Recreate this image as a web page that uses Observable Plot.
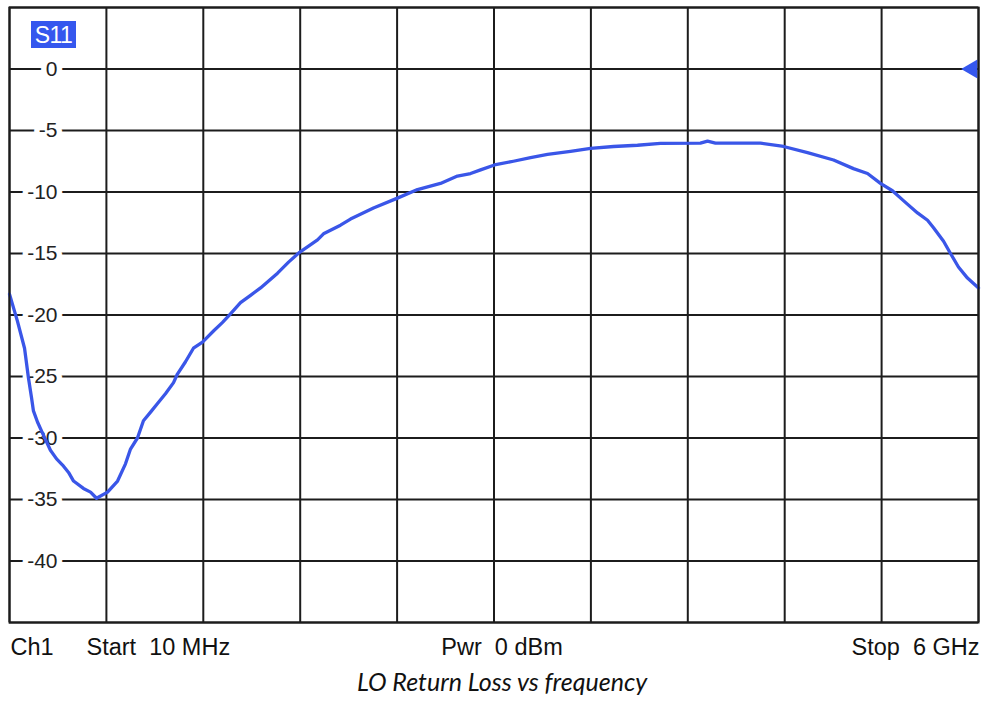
<!DOCTYPE html>
<html><head><meta charset="utf-8">
<script src="https://cdn.jsdelivr.net/npm/d3@7"></script>
<script src="https://cdn.jsdelivr.net/npm/@observablehq/plot@0.6"></script>
<style>
body{margin:0;background:#fff;}
#wrap{position:relative;width:984px;height:708px;overflow:hidden;}
#s11{position:absolute;left:31px;top:21px;width:45px;height:27px;background:#3557ee;color:#fff;font:23px "Liberation Sans",Arial,sans-serif;line-height:28px;text-align:center;letter-spacing:-0.5px;}
#title{position:absolute;left:0;top:666px;width:984px;height:40px;line-height:40px;text-align:center;font:italic 25px Lato,"Open Sans",sans-serif;color:#111;padding-left:20px;box-sizing:border-box;}
</style></head><body>
<div id="wrap"><div id="chart"></div><div id="s11">S11</div><div id="title">LO Return Loss vs frequency</div></div>
<script>
// Frequency (MHz) and S11 (dB)
const freqMHz = [10, 59, 103, 127, 146, 158, 183, 214, 263, 301, 338, 375, 406, 467, 511, 548, 616, 678, 727, 758, 801, 838, 882, 925, 974, 1024, 1048, 1098, 1147, 1203, 1271, 1327, 1376, 1438, 1500, 1562, 1667, 1735, 1803, 1914, 1951, 2056, 2118, 2260, 2408, 2532, 2674, 2779, 2860, 2922, 3008, 3125, 3231, 3336, 3478, 3602, 3744, 3892, 4034, 4281, 4325, 4374, 4652, 4795, 4943, 5104, 5227, 5314, 5394, 5468, 5536, 5623, 5685, 5722, 5784, 5827, 5876, 5932, 6000];
const s11dB = [-18.3, -20.5, -22.7, -25.1, -26.7, -27.8, -28.7, -29.6, -31.0, -31.7, -32.2, -32.8, -33.5, -34.1, -34.4, -34.9, -34.4, -33.5, -32.1, -30.9, -30.0, -28.6, -27.9, -27.2, -26.4, -25.5, -24.8, -23.8, -22.7, -22.2, -21.3, -20.6, -19.9, -19.0, -18.4, -17.8, -16.6, -15.7, -14.9, -13.9, -13.4, -12.7, -12.2, -11.3, -10.5, -9.8, -9.3, -8.7, -8.5, -8.2, -7.8, -7.5, -7.2, -6.95, -6.7, -6.46, -6.3, -6.2, -6.05, -6.03, -5.87, -6.03, -6.03, -6.3, -6.8, -7.4, -8.1, -8.5, -9.3, -9.9, -10.7, -11.7, -12.3, -12.9, -14.0, -15.0, -16.1, -17.0, -17.8];
const yTickLabels = [0, -5, -10, -15, -20, -25, -30, -35, -40];
const yGridDB = [5, 0, -5, -10, -15, -20, -25, -30, -35, -40, -45];
const xGridMHz = [10, 609, 1208, 1807, 2406, 3005, 3604, 4203, 4802, 5401, 6000];
const refLevelDB = [0];
const footerLeft = ["Ch1"];
const footerStart = ["Start \u00a010 MHz"];
const footerMid = ["Pwr \u00a00 dBm"];
const footerRight = ["Stop \u00a06 GHz"];

const data = freqMHz.map((f, i) => ({f, db: s11dB[i]}));
const font = "'Liberation Sans', Arial, sans-serif";
const gridColor = "#1c1c1c";

const chart = Plot.plot({
  width: 984, height: 665,
  marginTop: 7, marginBottom: 43, marginLeft: 9, marginRight: 6,
  x: {domain: [10, 6000], axis: null},
  y: {domain: [-45, 5], axis: null},
  style: {fontFamily: font, background: "#fff", color: "#222"},
  marks: [
    Plot.ruleX(xGridMHz, {stroke: gridColor, strokeWidth: 2}),
    Plot.ruleY(yGridDB, {stroke: gridColor, strokeWidth: 2}),
    Plot.text(yTickLabels, {x: 10, y: d => d, text: d => String(d), textAnchor: "end", dx: 48, fontSize: 21, fill: "#222", stroke: "white", strokeWidth: 11, paintOrder: "stroke"}),
    Plot.line(data, {x: "f", y: "db", stroke: "#3a56e8", strokeWidth: 3.3, curve: "linear"}),
    Plot.dot(refLevelDB, {x: 6000, y: d => d, symbol: "triangle", r: 7, rotate: -90, fill: "#3557ee", stroke: "none", dx: -6.5}),
    Plot.frame({stroke: gridColor, strokeWidth: 2}),
    Plot.text(footerLeft, {frameAnchor: "bottom-left", text: d => d, textAnchor: "start", lineAnchor: "middle", dx: 1, dy: 25, fontSize: 23.5, fill: "#111"}),
    Plot.text(footerStart, {frameAnchor: "bottom-left", text: d => d, textAnchor: "start", lineAnchor: "middle", dx: 77, dy: 25, fontSize: 23.5, fill: "#111"}),
    Plot.text(footerMid, {frameAnchor: "bottom", text: d => d, textAnchor: "middle", lineAnchor: "middle", dx: 8, dy: 25, fontSize: 23.5, fill: "#111"}),
    Plot.text(footerRight, {frameAnchor: "bottom-right", text: d => d, textAnchor: "end", lineAnchor: "middle", dx: 1, dy: 25, fontSize: 23.5, fill: "#111"})
  ]
});
document.getElementById("chart").appendChild(chart);
</script>
</body></html>
